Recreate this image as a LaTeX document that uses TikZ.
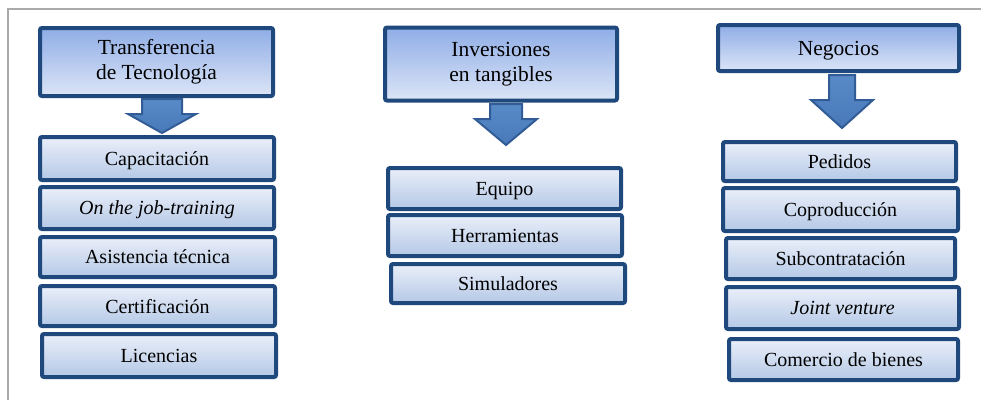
\documentclass[tikz,border=0pt]{standalone}
\usepackage{fontspec}
\setmainfont{Liberation Serif}
\definecolor{bordc}{RGB}{31,73,125}
\definecolor{headtop}{RGB}{143,173,230}
\definecolor{headbot}{RGB}{220,229,247}
\definecolor{itemtop}{RGB}{234,239,249}
\definecolor{itembot}{RGB}{180,200,230}
\definecolor{arrfill}{RGB}{72,120,184}
\definecolor{arrtop}{RGB}{88,138,200}
\definecolor{arrbord}{RGB}{50,92,150}
\definecolor{framec}{RGB}{170,170,170}
\begin{document}
\begin{tikzpicture}[x=1pt,y=-1pt,
  head/.style={draw=bordc, line width=4pt, rounded corners=2pt, top color=headtop, bottom color=headbot,
    align=center, font=\fontsize{21.5}{25}\selectfont, inner sep=0pt},
  item/.style={draw=bordc, line width=4pt, rounded corners=2pt, top color=itemtop, bottom color=itembot,
    font=\fontsize{20}{22}\selectfont, inner sep=0pt, text depth=0pt},
  blockarrow/.style={draw=arrbord, line width=2pt, line join=miter, top color=arrtop, bottom color=arrfill}]
\useasboundingbox (0,0) rectangle (981,400);
% frame
\draw[framec, line width=2pt] (7,9) -- (981,9);
\draw[framec, line width=2pt] (8,9) -- (8,400);
% column 1
\node[head, minimum width=233pt, minimum height=68pt] (h1) at (156.5,62) {Transferencia\\de Tecnología};
\node[item, minimum width=234pt, minimum height=43pt] (cap) at (157,158.5) {Capacitación};
\node[item, minimum width=234pt, minimum height=42pt] (ojt) at (157,208) {\itshape On the job-training};
\node[item, minimum width=235pt, minimum height=40pt] (ast) at (157.5,257) {Asistencia técnica};
\node[item, minimum width=235pt, minimum height=40pt] (cer) at (157.5,306) {Certificación};
\node[item, minimum width=234pt, minimum height=43pt] (lic) at (159,355.5) {Licencias};
% column 2
\node[head, minimum width=232pt, minimum height=73pt] (h2) at (501,64) {Inversiones\\en tangibles};
\node[item, minimum width=233pt, minimum height=41pt] (equ) at (504.5,188.5) {Equipo};
\node[item, minimum width=234pt, minimum height=41pt] (her) at (505,235.5) {Herramientas};
\node[item, minimum width=234pt, minimum height=39pt] (sim) at (508,283.5) {Simuladores};
% column 3
\node[head, minimum width=241pt, minimum height=46pt, text depth=0pt] (h3) at (838.5,48) {Negocios};
\node[item, minimum width=233pt, minimum height=39pt] (ped) at (839.5,161.5) {Pedidos};
\node[item, minimum width=235pt, minimum height=43pt] (cop) at (840.5,209.5) {Coproducción};
\node[item, minimum width=229pt, minimum height=41pt] (sub) at (840.5,258.5) {Subcontratación};
\node[item, minimum width=233pt, minimum height=42pt] (jv) at (842.5,308) {\itshape Joint venture};
\node[item, minimum width=229pt, minimum height=41pt] (com) at (843.5,359.5) {Comercio de bienes};
% block arrows
\draw[blockarrow] (142,99) -- (182,99) -- (182,114) -- (196,114) -- (162,133) -- (128,114) -- (142,114) -- cycle;
\draw[blockarrow] (490,104) -- (522,104) -- (522,119) -- (537,119) -- (506,145) -- (475,119) -- (490,119) -- cycle;
\draw[blockarrow] (829,75) -- (855,75) -- (855,100) -- (873,100) -- (842,128) -- (811,100) -- (829,100) -- cycle;
\end{tikzpicture}
\end{document}
